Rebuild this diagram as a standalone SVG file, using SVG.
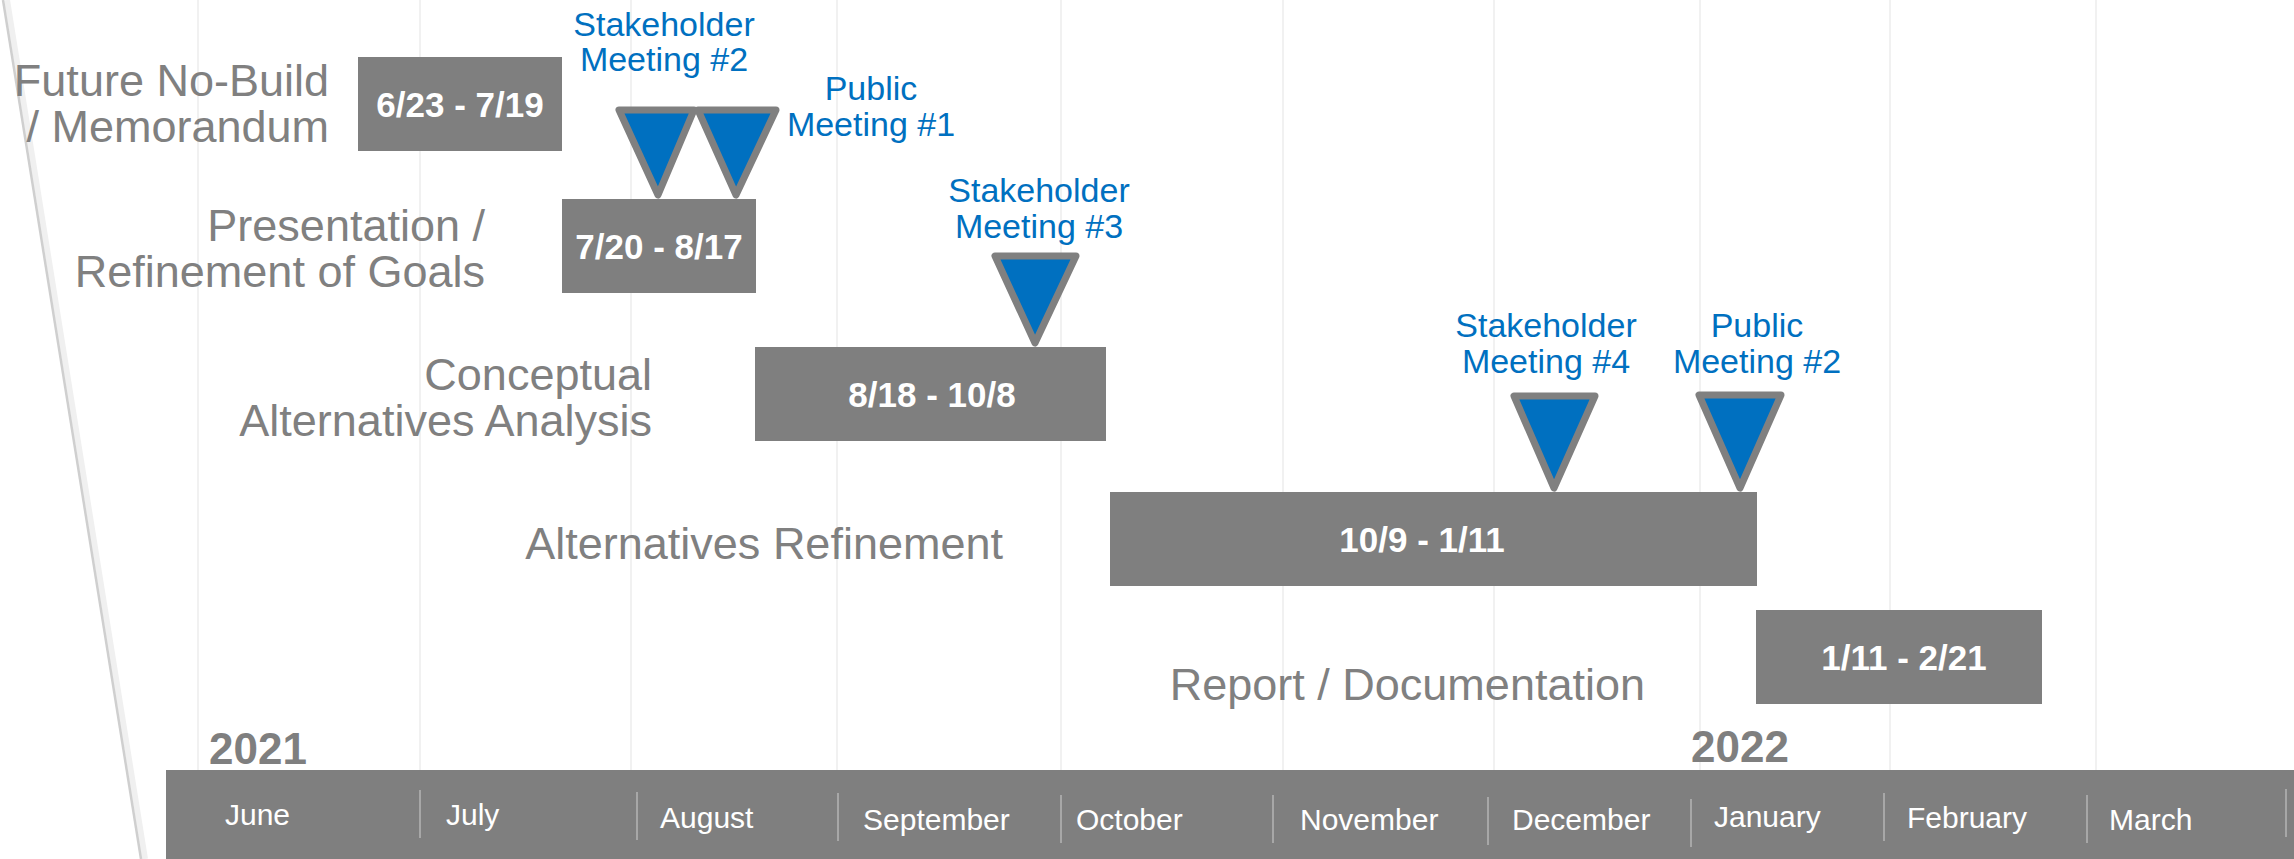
<svg xmlns="http://www.w3.org/2000/svg" width="2294" height="859" viewBox="0 0 2294 859">
<style>
.lbl{font-family:"Liberation Sans",Arial,sans-serif;font-size:45px;fill:#808080;text-anchor:end}
.blue{font-family:"Liberation Sans",Arial,sans-serif;font-size:34px;fill:#0070c0;text-anchor:middle}
.bar{fill:#7f7f7f}
.bt{font-family:"Liberation Sans",Arial,sans-serif;font-size:35px;font-weight:bold;fill:#ffffff;text-anchor:middle}
.mon{font-family:"Liberation Sans",Arial,sans-serif;font-size:30px;fill:#ffffff}
.yr{font-family:"Liberation Sans",Arial,sans-serif;font-size:44px;font-weight:bold;fill:#7f7f7f}
.grid{stroke:#ededed;stroke-width:1.5}
.sep{stroke:#b5b5b5;stroke-width:1.5}
.tri{fill:#0070c0;stroke:#808080;stroke-width:7;stroke-linejoin:round}
</style>
<rect width="2294" height="859" fill="#ffffff"/>
<g id="grid">
<line class="grid" x1="198" y1="0" x2="198" y2="770"/>
<line class="grid" x1="420" y1="0" x2="420" y2="770"/>
<line class="grid" x1="631" y1="0" x2="631" y2="770"/>
<line class="grid" x1="837" y1="0" x2="837" y2="770"/>
<line class="grid" x1="1061" y1="0" x2="1061" y2="770"/>
<line class="grid" x1="1283" y1="0" x2="1283" y2="770"/>
<line class="grid" x1="1494" y1="0" x2="1494" y2="770"/>
<line class="grid" x1="1700" y1="0" x2="1700" y2="770"/>
<line class="grid" x1="1890" y1="0" x2="1890" y2="770"/>
<line class="grid" x1="2096" y1="0" x2="2096" y2="770"/>
</g>
<g id="slant">
<line x1="7" y1="0" x2="145" y2="859" stroke="#f0f0f0" stroke-width="6"/>
<line x1="3" y1="0" x2="141" y2="859" stroke="#cfcfcf" stroke-width="2.5"/>
</g>
<g id="axis">
<rect x="166" y="770" width="2128" height="89" fill="#7f7f7f"/>
<line class="sep" x1="420" y1="790" x2="420" y2="838"/>
<line class="sep" x1="637" y1="792" x2="637" y2="840"/>
<line class="sep" x1="838" y1="793" x2="838" y2="841"/>
<line class="sep" x1="1061" y1="795" x2="1061" y2="843"/>
<line class="sep" x1="1273" y1="795" x2="1273" y2="843"/>
<line class="sep" x1="1488" y1="797" x2="1488" y2="845"/>
<line class="sep" x1="1691" y1="799" x2="1691" y2="847"/>
<line class="sep" x1="1884" y1="793" x2="1884" y2="841"/>
<line class="sep" x1="2087" y1="795" x2="2087" y2="843"/>
<line class="sep" x1="2286" y1="789" x2="2286" y2="837"/>
<text class="mon" x="225" y="825">June</text>
<text class="mon" x="446" y="825">July</text>
<text class="mon" x="660" y="828">August</text>
<text class="mon" x="863" y="830">September</text>
<text class="mon" x="1076" y="830">October</text>
<text class="mon" x="1300" y="830">November</text>
<text class="mon" x="1512" y="830">December</text>
<text class="mon" x="1714" y="827">January</text>
<text class="mon" x="1907" y="828">February</text>
<text class="mon" x="2109" y="830">March</text>
<text class="yr" x="209" y="764">2021</text>
<text class="yr" x="1691" y="762">2022</text>
</g>
<g id="task1">
<rect class="bar" x="358" y="57" width="204" height="94"/>
<text class="bt" x="460" y="117">6/23 - 7/19</text>
<text class="lbl" x="329" y="96">Future No-Build</text>
<text class="lbl" x="329" y="142">/ Memorandum</text>
</g>
<g id="task2">
<rect class="bar" x="562" y="199" width="194" height="94"/>
<text class="bt" x="659" y="259">7/20 - 8/17</text>
<text class="lbl" x="485" y="241">Presentation /</text>
<text class="lbl" x="485" y="287">Refinement of Goals</text>
</g>
<g id="task3">
<rect class="bar" x="755" y="347" width="351" height="94"/>
<text class="bt" x="932" y="407">8/18 - 10/8</text>
<text class="lbl" x="652" y="390">Conceptual</text>
<text class="lbl" x="652" y="436">Alternatives Analysis</text>
</g>
<g id="task4">
<rect class="bar" x="1110" y="492" width="647" height="94"/>
<text class="bt" x="1422" y="552">10/9 - 1/11</text>
<text class="lbl" x="1003" y="559">Alternatives Refinement</text>
</g>
<g id="task5">
<rect class="bar" x="1756" y="610" width="286" height="94"/>
<text class="bt" x="1904" y="670">1/11 - 2/21</text>
<text class="lbl" x="1645" y="700">Report / Documentation</text>
</g>
<g id="sm2">
<polygon class="tri" points="619,110 694,110 658,195"/>
<text class="blue" x="664" y="36">Stakeholder</text>
<text class="blue" x="664" y="71">Meeting #2</text>
</g>
<g id="pm1">
<polygon class="tri" points="698,110 776,110 736,195"/>
<text class="blue" x="871" y="100">Public</text>
<text class="blue" x="871" y="136">Meeting #1</text>
</g>
<g id="sm3">
<polygon class="tri" points="995,256 1076,256 1035,343"/>
<text class="blue" x="1039" y="202">Stakeholder</text>
<text class="blue" x="1039" y="238">Meeting #3</text>
</g>
<g id="sm4">
<polygon class="tri" points="1514,396 1595,396 1554,488"/>
<text class="blue" x="1546" y="337">Stakeholder</text>
<text class="blue" x="1546" y="373">Meeting #4</text>
</g>
<g id="pm2">
<polygon class="tri" points="1699,395 1781,395 1740,488"/>
<text class="blue" x="1757" y="337">Public</text>
<text class="blue" x="1757" y="373">Meeting #2</text>
</g>
</svg>
